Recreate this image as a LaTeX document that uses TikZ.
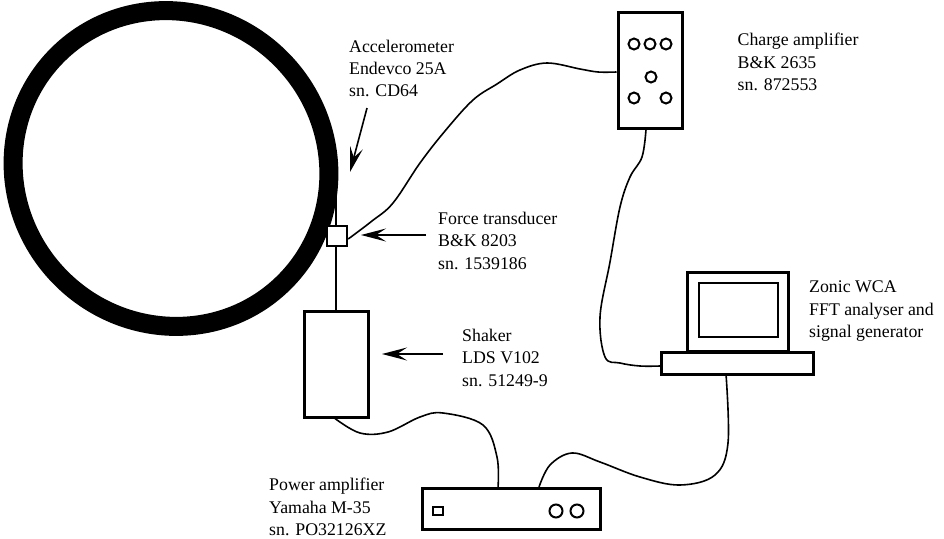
\documentclass[tikz,border=0pt]{standalone}
\usepackage{fontspec}
\setmainfont{Liberation Serif}
\usetikzlibrary{arrows.meta}
\tikzset{
  x=1pt,y=-1pt,
  lbl/.style={align=left,anchor=north west,inner sep=0pt,font=\fontsize{17.8}{22.4}\selectfont},
  box/.style={draw,line width=3pt,fill=white,inner sep=0pt},
  knob/.style={circle,draw,line width=2pt,minimum size=11pt,inner sep=0pt},
  cable/.style={line width=1.6pt,line join=round},
  smoothcable/.style={smooth,tension=0.6},
  pointer/.style={line width=1.6pt,-{Stealth[length=25pt,width=13pt,inset=10pt]}}
}
\begin{document}
\begin{tikzpicture}
\useasboundingbox (0,0) rectangle (944,538);
\draw[line width=19pt] (171,168.5) ellipse [x radius=160.5,y radius=155.25,rotate=-45];
\coordinate (rod1) at (336,180);
\coordinate (rod2) at (336,312);
\draw[line width=2.8pt] (rod1) -- (rod2);
\node[draw,line width=2.4pt,fill=white,minimum size=20pt,inner sep=0pt] (ft) at (337,236) {};
\node[box,minimum width=64pt,minimum height=106pt] (shaker) at (336,364) {};
\node[box,minimum width=64pt,minimum height=116pt] (ca) at (650,70) {};
\node[knob] (k1) at (634,44) {};
\node[knob] (k2) at (650,44) {};
\node[knob] (k3) at (666,44) {};
\node[knob] (k4) at (651,77) {};
\node[knob] (k5) at (634,98) {};
\node[knob] (k6) at (666,98) {};
\node[box,minimum width=101pt,minimum height=79pt] (screen) at (737.5,312) {};
\node[draw,line width=2pt,minimum width=79pt,minimum height=54pt,inner sep=0pt] (disp) at (738.5,310) {};
\node[box,minimum width=152pt,minimum height=22pt] (base) at (737.5,363) {};
\node[box,minimum width=178pt,minimum height=41pt] (pa) at (511,509) {};
\node[draw,line width=2pt,minimum width=10pt,minimum height=8pt,inner sep=0pt] (sw) at (438,511) {};
\node[knob,minimum size=13pt] (k7) at (556,511) {};
\node[knob,minimum size=13pt] (k8) at (577,511) {};
\node[lbl] (a) at (349,39.5) {Accelerometer\\Endevco 25A\\sn. CD64};
\node[lbl] (f) at (438,212) {Force transducer\\B\&K 8203\\sn. 1539186};
\node[lbl] (s) at (462,329) {Shaker\\LDS V102\\sn. 51249-9};
\node[lbl] (p) at (269,478) {Power amplifier\\Yamaha M-35\\sn. PO32126XZ};
\node[lbl] (c) at (737.5,33) {Charge amplifier\\B\&K 2635\\sn. 872553};
\node[lbl] (z) at (809,281) {Zonic WCA\\FFT analyser and\\signal generator};
\coordinate (aS) at (367,108); \coordinate (aE) at (350,172);
\coordinate (fS) at (426,235); \coordinate (fE) at (361,235);
\coordinate (sS) at (443,354); \coordinate (sE) at (382,354);
\draw[pointer] (aS) -- (aE);
\draw[pointer] (fS) -- (fE);
\draw[pointer] (sS) -- (sE);
\draw[cable] plot[smoothcable] coordinates {([yshift=-3pt]ft.east) (372,221) (393,203) (420,163) (445,131) (473,100) (497,84) (520,70) (547,63) (580,69) (598,72) ([yshift=-2pt]ca.west)};
\draw[cable] plot[smoothcable] coordinates {([xshift=-4pt]ca.south) (642,157) (630,177) (620,207) (610,262) (600,317) (605,357) (620,363) (640,366) ([yshift=-3pt]base.west)};
\draw[cable] plot[smoothcable] coordinates {([xshift=-1pt]shaker.south) (360,433) (388,432) (420,417) (443,413) (483,425) (497,457) (498,488)};
\draw[cable] plot[smoothcable] coordinates {([xshift=28pt]pa.north) (550,465) (572,453) (600,462) (640,477) (680,485) (715,475) (728,443) (726,374)};
\end{tikzpicture}
\end{document}
